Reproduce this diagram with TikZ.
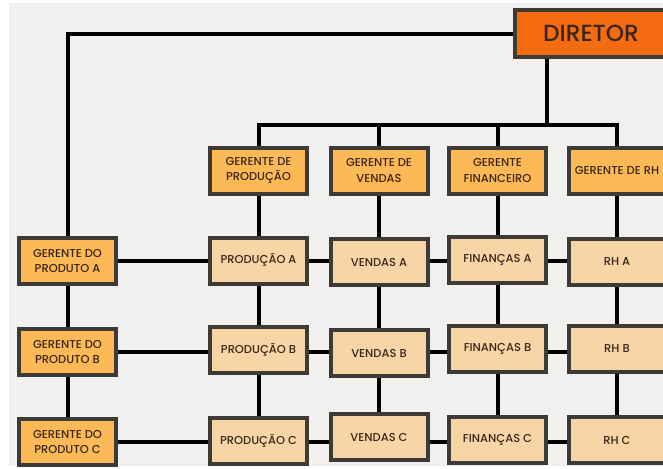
\documentclass[tikz,border=0pt]{standalone}
\usepackage{fontspec}
\setmainfont{Poppins}[UprightFont=* Medium]
\usetikzlibrary{positioning}
\usetikzlibrary{backgrounds}

\definecolor{dirorange}{HTML}{F46B12}
\definecolor{gerorange}{HTML}{FDB955}
\definecolor{deppeach}{HTML}{F8D5A7}
\definecolor{boxline}{HTML}{3E3A35}
\definecolor{txtbrown}{HTML}{3A2619}
\definecolor{paper}{HTML}{F2F0EE}

\pgfdeclarelayer{backdrop}
\pgfsetlayers{backdrop,background,main}

\tikzset{
	box/.style={draw=boxline, line width=3pt, text=txtbrown, align=center,
		minimum width=72.75pt, minimum height=34.5pt, inner sep=0pt,
		font=\fontsize{8.6}{11.3}\selectfont},
	director/.style={box, fill=dirorange, minimum width=114pt, minimum height=35.25pt,
		font=\fontsize{17.5}{20}\selectfont},
	manager/.style={box, fill=gerorange},
	dept/.style={box, fill=deppeach},
	link/.style={line width=3pt, black}
}

\begin{document}
\begin{tikzpicture}[x=0.75pt,y=-0.75pt]
	\useasboundingbox (0,0) rectangle (663,468);
	\begin{pgfonlayer}{backdrop}
		\fill[white] (0,0) rectangle (663,468);
		\fill[paper] (9,3) rectangle (663,466);
	\end{pgfonlayer}

	% top
	\node[director] (dir) at (591,33.5) {DIRETOR};

	% column managers
	\node[manager] (gprod) at (258.5,170.5) {GERENTE DE\\PRODUÇÃO};
	\node[manager] (gvend) at (379,170.5) {GERENTE DE\\VENDAS};
	\node[manager] (gfin) at (497.5,170.5) {GERENTE\\FINANCEIRO};
	\node[manager] (grh) at (617,170.5) {GERENTE DE RH};

	% product managers
	\node[manager] (gpa) at (67.5,261) {GERENTE DO\\PRODUTO A};
	\node[manager] (gpb) at (67.5,352) {GERENTE DO\\PRODUTO B};
	\node[manager] (gpc) at (67.5,442) {GERENTE DO\\PRODUTO C};

	% departments
	\node[dept] (proda) at (258.5,260.5) {PRODUÇÃO A};
	\node[dept] (venda) at (379,262) {VENDAS A};
	\node[dept] (fina) at (497.5,260) {FINANÇAS A};
	\node[dept] (rha) at (617,262) {RH A};

	\node[dept] (prodb) at (258.5,350) {PRODUÇÃO B};
	\node[dept] (vendb) at (379,353) {VENDAS B};
	\node[dept] (finb) at (497.5,349) {FINANÇAS B};
	\node[dept] (rhb) at (617,349) {RH B};

	\node[dept] (prodc) at (258.5,441) {PRODUÇÃO C};
	\node[dept] (vendc) at (379,437) {VENDAS C};
	\node[dept] (finc) at (497.5,440) {FINANÇAS C};
	\node[dept] (rhc) at (617,440) {RH C};

	\begin{scope}[on background layer]
	\begin{scope}[link]
		\coordinate (bus) at (547,125);
		\draw (dir.west) -| (gpa.north);
		\draw (dir.south -| bus) -- (bus);
		\draw (gprod.north) |- (bus) -| (grh.north);
		\draw (gvend.north) -- (gvend.north |- bus);
		\draw (gfin.north) -- (gfin.north |- bus);
		\foreach \c/\d in {gprod/prod,gvend/vend,gfin/fin,grh/rh}
			\draw (\c) -- (\d a) -- (\d b) -- (\d c);
		\draw (gpa) -- (gpb) -- (gpc);
		\foreach \r in {a,b,c}
			\draw (gp\r) -- (gp\r -| rh\r);
	\end{scope}
	\end{scope}
\end{tikzpicture}
\end{document}
